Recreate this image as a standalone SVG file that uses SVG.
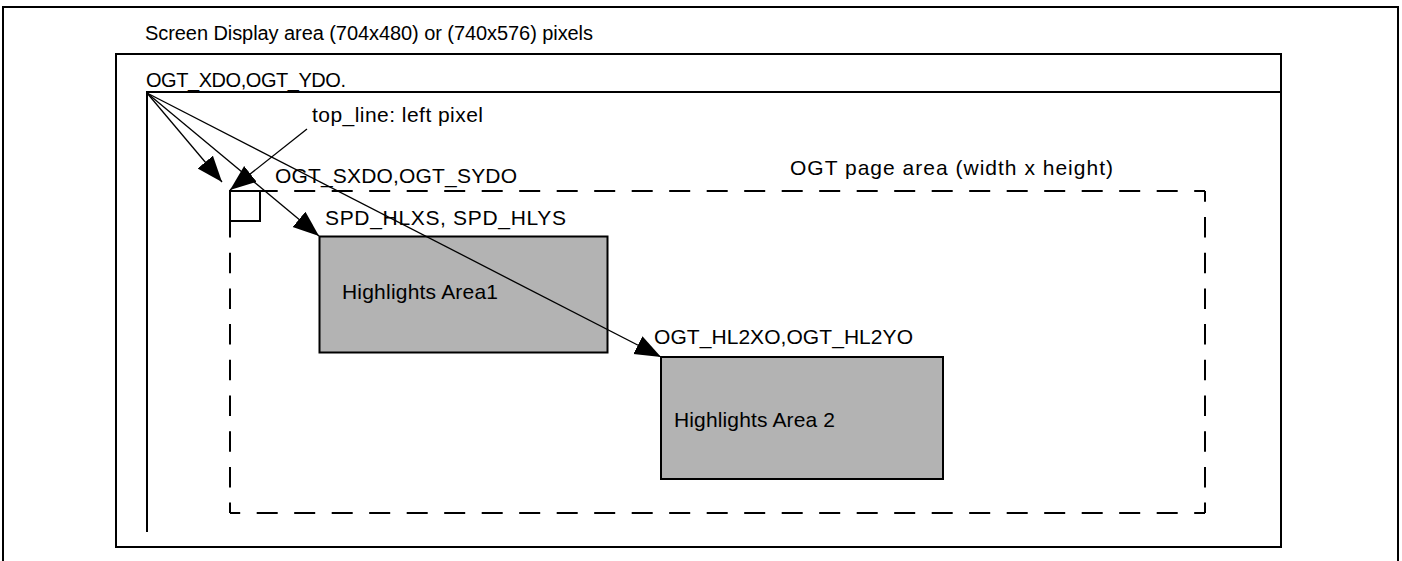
<svg xmlns="http://www.w3.org/2000/svg" width="1402" height="561" viewBox="0 0 1402 561">
<defs>
<style>
.frame{fill:none;stroke:#000;stroke-width:2}
.dh{fill:none;stroke:#000;stroke-width:2;stroke-dasharray:21 16.5;stroke-dashoffset:10.8}
.dv{fill:none;stroke:#000;stroke-width:2;stroke-dasharray:20.5 15.2;stroke-dashoffset:9.7}
.hl{fill:#b3b3b3;stroke:#000;stroke-width:2}
.conn{fill:none;stroke:#000;stroke-width:1.3;marker-end:url(#ah)}
text{font-family:"Liberation Sans",Arial,sans-serif;font-size:21px;fill:#000}
.s20{font-size:20px}
</style>
<marker id="ah" markerUnits="userSpaceOnUse" markerWidth="28" markerHeight="22" refX="26" refY="10" orient="auto" viewBox="0 0 28 22">
<path d="M0,0 L26,10 L0,20 z" fill="#000"/>
</marker>
</defs>
<rect width="1402" height="561" fill="#fff"/>
<g id="outer-frame">
<path class="frame" d="M3,563 V7 H1398 V563"/>
<text class="s20" x="145" y="40" textLength="448">Screen Display area (704x480) or (740x576) pixels</text>
</g>
<g id="screen-display">
<rect class="frame" x="116" y="54" width="1165" height="493"/>
<path class="frame" d="M147,532 V92 H1281"/>
<text class="s20" x="146" y="87" textLength="200">OGT_XDO,OGT_YDO.</text>
</g>
<g id="ogt-page">
<path class="dh" d="M230,191 H1205"/>
<path class="dh" d="M230,513 H1205"/>
<path class="dv" d="M230,191 V513"/>
<path class="dv" d="M1205,191 V513"/>
<rect class="frame" x="230" y="191" width="30" height="30"/>
<text x="790" y="175" textLength="323">OGT page area (width x height)</text>
<text x="275" y="183" textLength="242">OGT_SXDO,OGT_SYDO</text>
<text x="312" y="122" textLength="171">top_line: left pixel</text>
</g>
<g id="highlight1">
<rect class="hl" x="319.5" y="236.5" width="288" height="116"/>
<text x="325" y="225" textLength="241">SPD_HLXS, SPD_HLYS</text>
<text x="342" y="299" textLength="156">Highlights Area1</text>
</g>
<g id="highlight2">
<rect class="hl" x="661" y="357" width="282" height="122"/>
<text x="654" y="344" textLength="259">OGT_HL2XO,OGT_HL2YO</text>
<text x="674" y="427" textLength="161">Highlights Area 2</text>
</g>
<g id="connectors">
<line class="conn" x1="147" y1="93" x2="222" y2="182"/>
<line class="conn" x1="147" y1="93" x2="319" y2="236"/>
<line class="conn" x1="147" y1="93" x2="661" y2="357"/>
<line class="conn" x1="307" y1="129" x2="230" y2="190"/>
</g>
</svg>
